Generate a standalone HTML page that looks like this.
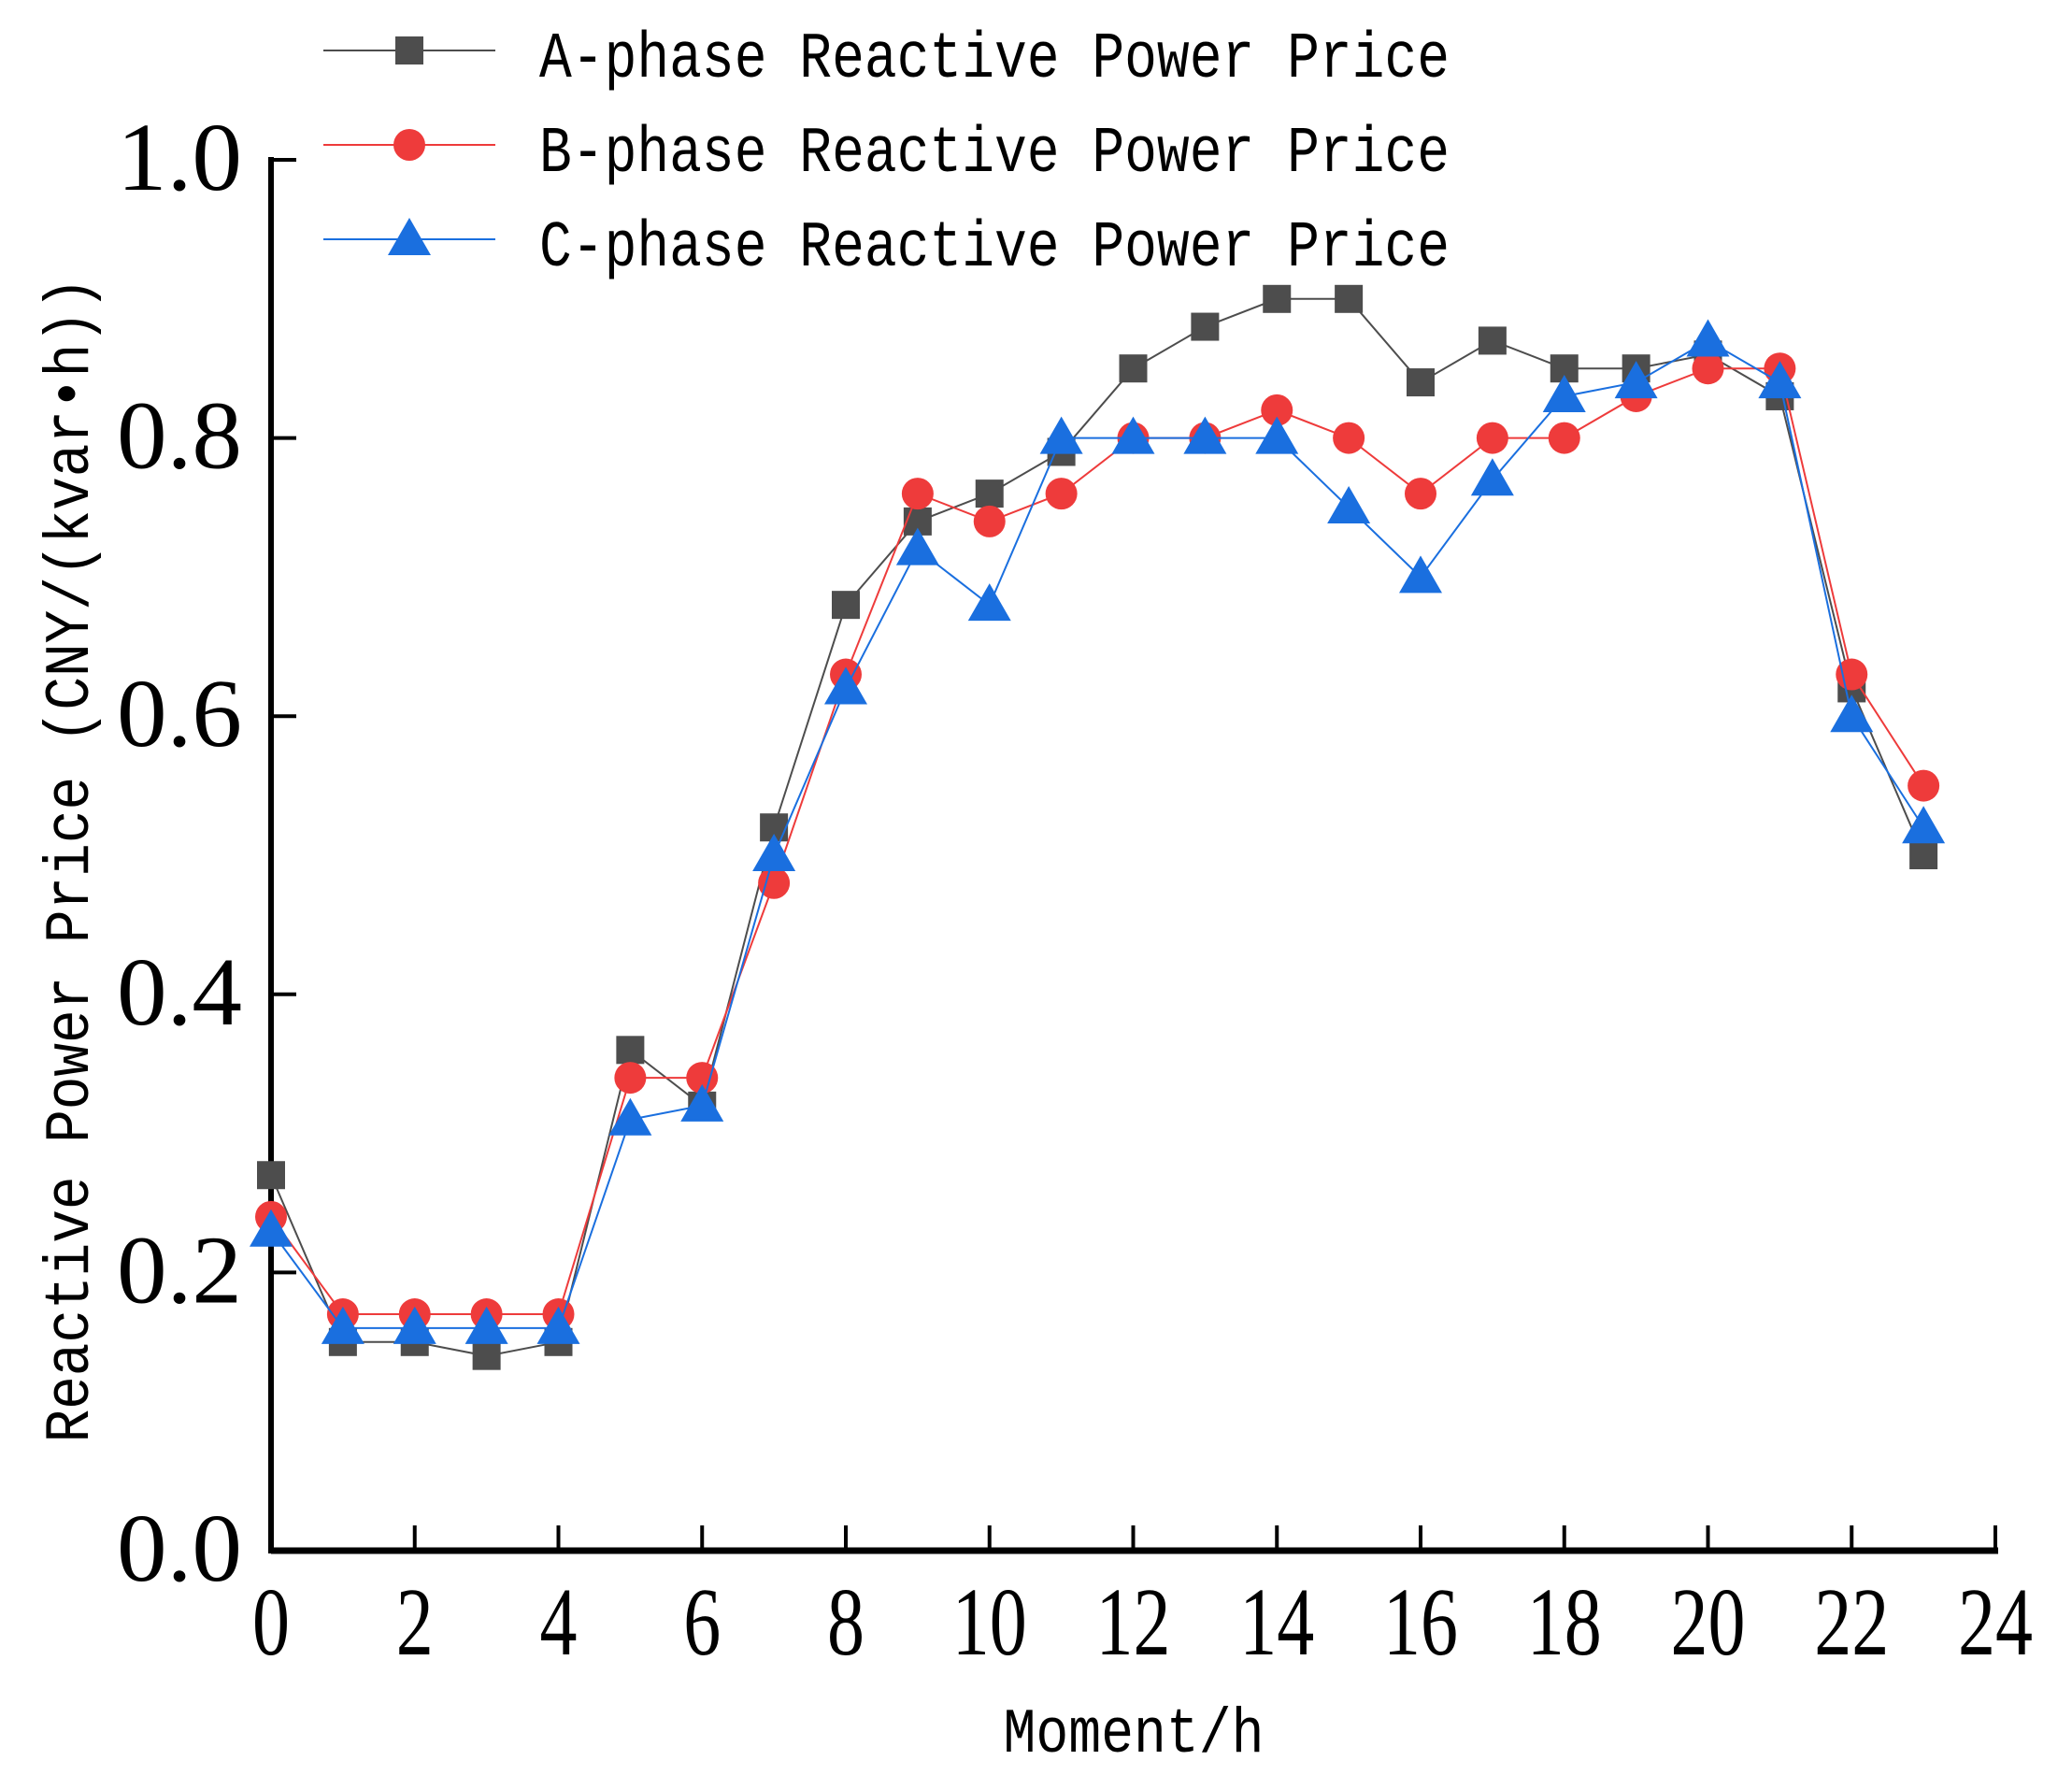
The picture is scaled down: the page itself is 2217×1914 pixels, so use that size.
<!DOCTYPE html>
<html><head><meta charset="utf-8"><style>body{margin:0;background:#fff}svg{display:block}</style></head>
<body>
<svg id="chart" width="2217" height="1914" xmlns="http://www.w3.org/2000/svg" font-family="'Liberation Mono','Liberation Serif',serif">
<g id="axes"></g>
<g id="series"></g>
<g id="legend"></g>
<text transform="translate(94,920) rotate(-90)" text-anchor="middle" font-size="68" textLength="1247" lengthAdjust="spacingAndGlyphs">Reactive Power Price (CNY/(kvar•h))</text>
<text x="1213" y="1874" text-anchor="middle" font-size="68" textLength="279" lengthAdjust="spacingAndGlyphs">Moment/h</text>
</svg>
<script>
const hours=[0,1,2,3,4,5,6,7,8,9,10,11,12,13,14,15,16,17,18,19,20,21,22,23];
const seriesA=[0.27,0.15,0.15,0.14,0.15,0.36,0.32,0.52,0.68,0.74,0.76,0.79,0.85,0.88,0.90,0.90,0.84,0.87,0.85,0.85,0.86,0.83,0.62,0.50];
const seriesB=[0.24,0.17,0.17,0.17,0.17,0.34,0.34,0.48,0.63,0.76,0.74,0.76,0.80,0.80,0.82,0.80,0.76,0.80,0.80,0.83,0.85,0.85,0.63,0.55];
const seriesC=[0.23,0.16,0.16,0.16,0.16,0.31,0.32,0.50,0.62,0.72,0.68,0.80,0.80,0.80,0.80,0.75,0.70,0.77,0.83,0.84,0.87,0.84,0.60,0.52];
const xTicks=[0,2,4,6,8,10,12,14,16,18,20,22,24];
const yTicks=[0,0.2,0.4,0.6,0.8,1.0];
const legendLabels=["A-phase Reactive Power Price","B-phase Reactive Power Price","C-phase Reactive Power Price"];
const NS="http://www.w3.org/2000/svg";
const X0=290,X1=2135,Y0=1659,Y1=171;
const sx=v=>X0+(v-0)/24*(X1-X0);
const sy=v=>Y0-(v-0)/1*(Y0-Y1);
function mk(tag,attrs,parent){const e=document.createElementNS(NS,tag);for(const k in attrs)e.setAttribute(k,attrs[k]);parent.appendChild(e);return e;}
const axes=document.getElementById('axes');
let e=mk('line',{x1:X0,y1:Y0,x2:X1+3,y2:Y0,stroke:'#000','stroke-width':7},axes);


e=mk('line',{x1:X0,y1:Y1-3,x2:X0,y2:Y0+3,stroke:'#000','stroke-width':6},axes);


xTicks.forEach(t=>{
  const x=sx(t);
  const l=mk('line',{x1:x,y1:Y0,x2:x,y2:Y0-27,stroke:'#000','stroke-width':4},axes);
  
  
  const s=String(t);
  const tx=mk('text',{x:x,y:1770,'text-anchor':'middle','font-family':"'Liberation Serif',serif",'font-size':104,textLength:s.length*40,lengthAdjust:'spacingAndGlyphs'},axes);
  tx.textContent=s;
  
  
});
yTicks.forEach(t=>{
  const y=sy(t);
  const l=mk('line',{x1:X0,y1:y,x2:X0+27,y2:y,stroke:'#000','stroke-width':4},axes);
  
  
  const tx=mk('text',{x:259,y:y+32,'text-anchor':'end','font-family':"'Liberation Serif',serif",'font-size':104,textLength:134,lengthAdjust:'spacingAndGlyphs'},axes);
  tx.textContent=t.toFixed(1);
  
  
});
const cols=['#4d4d4d','#ee3b3b','#1a6fdf'];
function marker(kind,x,y,color,parent){
  let m;
  if(kind===0)m=mk('rect',{x:x-15,y:y-15,width:30,height:30,fill:color},parent);
  else if(kind===1)m=mk('circle',{cx:x,cy:y,r:17,fill:color},parent);
  else m=mk('polygon',{points:`${x},${y-23} ${x-23},${y+17} ${x+23},${y+17}`,fill:color},parent);
  return m;
}
const ser=document.getElementById('series');
[seriesA,seriesB,seriesC].forEach((data,k)=>{
  const g=mk('g',{},ser);
  
  
  const pl=mk('polyline',{points:data.map((v,i)=>sx(hours[i])+','+sy(v)).join(' '),fill:'none',stroke:cols[k],'stroke-width':2},g);
  
  
  data.forEach((v,i)=>{
    const m=marker(k,sx(hours[i]),sy(v),cols[k],g);
    
    
  });
});
const leg=document.getElementById('legend');
legendLabels.forEach((lab,k)=>{
  const y=54+k*101;
  const g=mk('g',{},leg);
  
  
  mk('line',{x1:346,y1:y,x2:530,y2:y,stroke:cols[k],'stroke-width':2},g);
  marker(k,438,y,cols[k],g);
  const t=mk('text',{x:577,y:y+28,'font-size':70,textLength:974,lengthAdjust:'spacingAndGlyphs'},g);
  t.textContent=lab;
});
</script>
</body></html>
